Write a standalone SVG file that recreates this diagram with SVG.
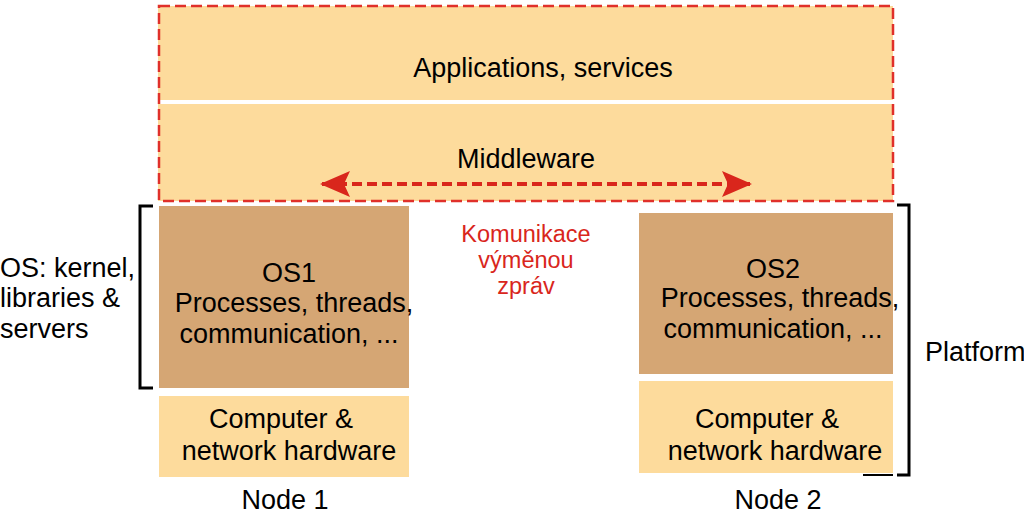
<svg xmlns="http://www.w3.org/2000/svg" width="1024" height="515" viewBox="0 0 1024 515">
<style>
text{font-family:"Liberation Sans",Arial,sans-serif;font-size:27px;fill:#000}
.c{text-anchor:middle}
.red{fill:#D9261C;font-size:23.5px}
.light{fill:#FDDB9C}
.dark{fill:#D5A674}
.br{fill:none;stroke:#000;stroke-width:3}
</style>
<defs>
<marker id="ah2" viewBox="0 0 30 26" refX="28" refY="13" markerWidth="30" markerHeight="26" markerUnits="userSpaceOnUse" orient="auto-start-reverse">
<path d="M0,0 L30,13 L0,26 L6,13 z" fill="#D9261C"/>
</marker>
</defs>
<rect width="1024" height="515" fill="#fff"/>
<g id="middleware-layer">
<rect x="158" y="6" width="735" height="195" class="light"/>
<line x1="158" y1="102" x2="893" y2="102" stroke="#fff" stroke-width="4"/>
<rect x="159" y="6" width="734" height="195" fill="none" stroke="#E0302A" stroke-width="2.5" stroke-dasharray="11,5"/>
<text x="543" y="77" class="c">Applications, services</text>
<text x="526" y="168" class="c">Middleware</text>
</g>
<g id="node1">
<rect x="159" y="206" width="250" height="182" class="dark"/>
<text x="289" y="282" class="c">OS1</text>
<text x="294" y="312" class="c">Processes, threads,</text>
<text x="289" y="343" class="c">communication, ...</text>
<rect x="159" y="396" width="250" height="81" class="light"/>
<text x="281" y="428" class="c">Computer &amp;</text>
<text x="289" y="460" class="c">network hardware</text>
<text x="285" y="509" class="c">Node 1</text>
</g>
<g id="node2">
<rect x="639" y="213" width="254" height="161" class="dark"/>
<text x="773" y="278" class="c">OS2</text>
<text x="780" y="307" class="c">Processes, threads,</text>
<text x="773" y="338" class="c">communication, ...</text>
<rect x="639" y="381" width="254" height="92" class="light"/>
<text x="767" y="428" class="c">Computer &amp;</text>
<text x="775" y="460" class="c">network hardware</text>
<text x="778" y="509" class="c">Node 2</text>
</g>
<g id="labels">
<path class="br" d="M153,206 H140 V388 H153"/>
<text x="0" y="277">OS: kernel,</text>
<text x="0" y="307">libraries &amp;</text>
<text x="0" y="338">servers</text>
<path class="br" d="M897,205 H909 V475 H897"/>
<line x1="863" y1="475" x2="893" y2="475" stroke="#000" stroke-width="2"/>
<text x="925" y="361">Platform</text>
<text x="526" y="242" class="c red">Komunikace</text>
<text x="526" y="268" class="c red">výměnou</text>
<text x="526" y="294" class="c red">zpráv</text>
</g>
<g id="connectors">
<line x1="322" y1="184" x2="750" y2="184" stroke="#D9261C" stroke-width="4" stroke-dasharray="10,5" marker-start="url(#ah2)" marker-end="url(#ah2)"/>
</g>
</svg>
